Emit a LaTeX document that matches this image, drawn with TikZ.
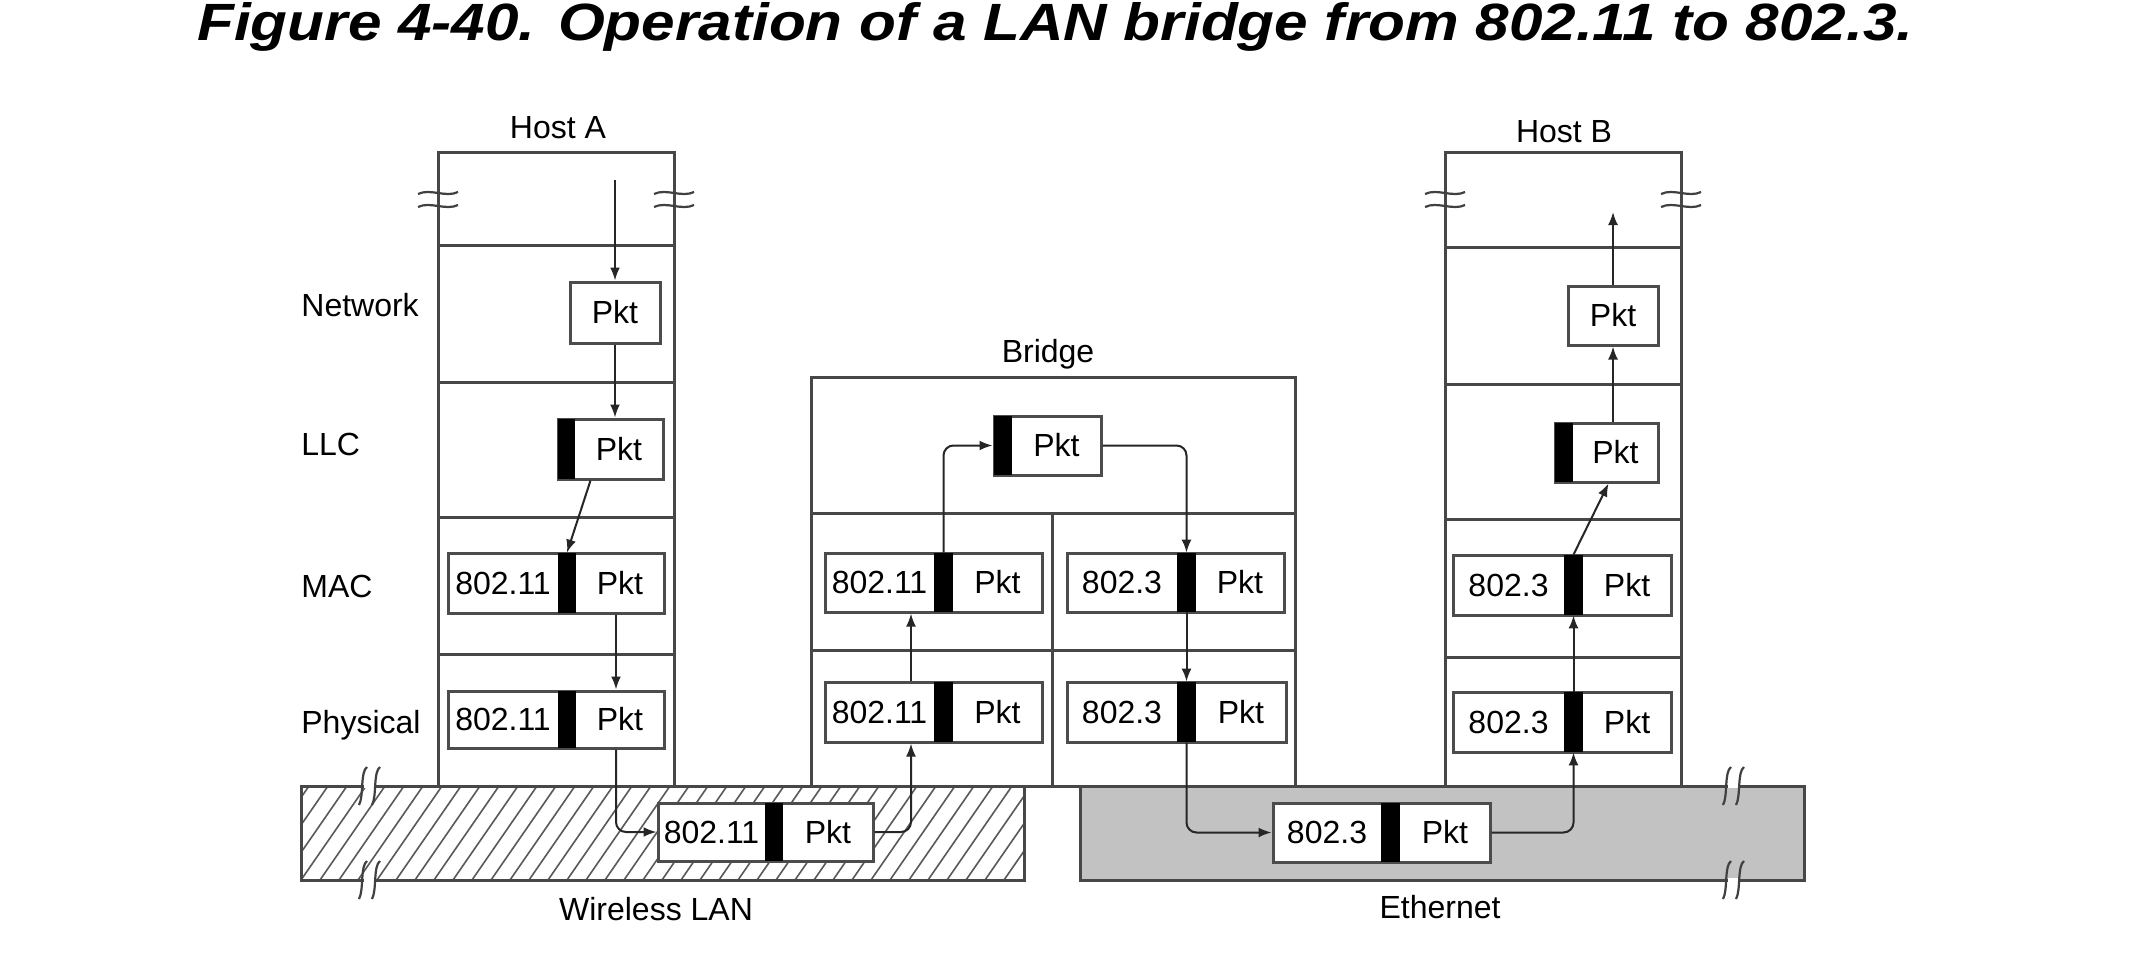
\documentclass[tikz,border=0pt]{standalone}
\usepackage{graphicx}
\usepackage{fontspec}
\setmainfont{Liberation Sans}
\usetikzlibrary{arrows.meta,fit,calc}
\newcommand\pktbox[8]{%
  \node[pktframe, fit={(#2,#4) (#3,#5)}] (#1) {};
  \node[barbox, fit={(#6,#4) (#7,#5)}] (#1bar) {};
  \node[lbl] (#1h) at ({(#2+#6)/2},{(#4+#5)/2}) {#8};
  \node[lbl] (#1p) at ({(#7+#3)/2},{(#4+#5)/2}) {Pkt};
}
\newcommand\netbox[5]{%
  \node[pktframe, fit={(#2,#4) (#3,#5)}] (#1) {};
  \node[lbl] (#1p) at ({(#2+#3)/2},{(#4+#5)/2}) {Pkt};
}
\newcommand\hostbreak[2]{%
  \draw[brk] ({#1-20},{#2+1}) .. controls ({#1-8},{#2-5}) and ({#1+8},{#2+5}) .. ({#1+20},{#2-1});
}
\newcommand\bandbreak[2]{%
  \draw[white, line width=2pt] ({#1+1},#2) -- ({#1+12},#2);
  \draw[brk] ({#1+4},{#2-19}) .. controls ({#1-3},{#2-14}) and ({#1+1},{#2+10}) .. ({#1-4},{#2+19});
  \draw[brk] ({#1+17},{#2-19}) .. controls ({#1+10},{#2-14}) and ({#1+14},{#2+10}) .. ({#1+9},{#2+19});
}
\begin{document}
\begin{tikzpicture}[x=0.5pt,y=-0.5pt,
  frame/.style={draw=black!72, line width=1.5pt},
  pktframe/.style={draw=black!70, line width=1.5pt, fill=white, inner sep=0pt},
  barbox/.style={fill=black, inner sep=0pt},
  lbl/.style={font=\fontsize{16}{19}\selectfont, inner sep=0pt},
  conn/.style={draw=black!85, line width=1pt},
  arr/.style={conn, -{Latex[length=6.5pt,width=5pt]}},
  rc/.style={rounded corners=5pt},
  brk/.style={draw=black!75, line width=1.1pt},
  hatchline/.style={draw=black!65, line width=0.8pt},
]
\useasboundingbox (0,0) rectangle (2135,958);
\fill[white] (0,0) rectangle (2135,958);

% title
\node[anchor=base west, inner sep=0pt] (title) at (197,40)
  {\resizebox{858pt}{19pt}{\fontsize{20}{24}\selectfont\bfseries\itshape Figure 4-40. Operation of a LAN bridge from 802.11 to 802.3.}};

% networks
\node[frame, fill=black!24, inner sep=0pt, fit={(1080,786) (1804,880)}] (eth) {};
\node[frame, inner sep=0pt, fit={(301,786) (1024,880)}] (wlan) {};
\begin{scope}
  \clip (301,786) rectangle (1024,880);
  \foreach \i in {-5,...,40} \draw[hatchline] ({301+\i*19},880) -- ++(65,-94);
\end{scope}
\draw[frame] (301,786) rectangle (1024,880);
\node[lbl, anchor=base] (wlanlbl) at (656,920) {Wireless LAN};
\node[lbl, anchor=base] (ethlbl) at (1440,918) {Ethernet};

% host A
\node[frame, inner sep=0pt, fit={(438,152) (674,786)}] (hostA) {};
\foreach \y in {245,382,517,654} \draw[frame] (438,\y) -- (674,\y);
\node[lbl, anchor=base] (hostAlbl) at (558,138) {Host A};
\hostbreak{438}{193}\hostbreak{438}{206}
\hostbreak{674}{193}\hostbreak{674}{206}

% host B
\node[frame, inner sep=0pt, fit={(1445,152) (1681,786)}] (hostB) {};
\foreach \y in {247,384,519,657} \draw[frame] (1445,\y) -- (1681,\y);
\node[lbl, anchor=base] (hostBlbl) at (1564,142) {Host B};
\hostbreak{1445}{193}\hostbreak{1445}{206}
\hostbreak{1681}{193}\hostbreak{1681}{206}

% bridge
\node[frame, inner sep=0pt, fit={(811,377) (1295,786)}] (bridge) {};
\draw[frame] (811,513) -- (1295,513);
\draw[frame] (811,650) -- (1295,650);
\draw[frame] (1052,513) -- (1052,786);
\node[lbl, anchor=base] (bridgelbl) at (1048,362) {Bridge};

% layer labels
\node[lbl, anchor=base west] (lNet) at (301,316) {Network};
\node[lbl, anchor=base west] (lLLC) at (301,455) {LLC};
\node[lbl, anchor=base west] (lMAC) at (301,597) {MAC};
\node[lbl, anchor=base west] (lPhy) at (301,733) {Physical};

% break marks on networks
\bandbreak{363}{786}\bandbreak{363}{880}
\bandbreak{1727}{786}\bandbreak{1727}{880}

% packets
\netbox{aNet}{570}{660}{282}{343}
\pktbox{aLLC}{558}{663}{419}{479}{558}{575}{}
\pktbox{aMAC}{448}{664}{553}{613}{558}{576}{802.11}
\pktbox{aPhy}{448}{664}{691}{748}{558}{576}{802.11}
\pktbox{wPkt}{658}{873}{803}{861}{765}{783}{802.11}
\pktbox{brLLC}{994}{1101}{416}{475}{994}{1012}{}
\pktbox{brMACL}{825}{1042}{553}{612}{934}{953}{802.11}
\pktbox{brPhyL}{825}{1042}{682}{742}{934}{953}{802.11}
\pktbox{brMACR}{1067}{1284}{553}{612}{1177}{1196}{802.3}
\pktbox{brPhyR}{1067}{1286}{682}{742}{1177}{1196}{802.3}
\pktbox{ePkt}{1273}{1490}{803}{862}{1381}{1400}{802.3}
\pktbox{bPhy}{1453}{1671}{692}{752}{1564}{1583}{802.3}
\pktbox{bMAC}{1453}{1671}{555}{615}{1564}{1583}{802.3}
\pktbox{bLLC}{1555}{1658}{423}{482}{1555}{1573}{}
\netbox{bNet}{1568}{1658}{286}{345}

% connectors
\coordinate (aTop) at (615,180);
\draw[arr] (aTop) -- (aTop |- aNet.north);
\draw[arr] (aNet.south) -- (aNet.south |- aLLC.north);
\draw[arr] ([xshift=-10pt]aLLC.south) -- (aMACbar.north);
\draw[arr] ([xshift=30pt]aMAC.south) -- ([xshift=30pt]aPhy.north);
\draw[arr, rc] ([xshift=30pt]aPhy.south) |- (wPkt.west);
\draw[arr, rc] (wPkt.east) -| ([xshift=-11.25pt]brPhyL.south);
\draw[arr] ([xshift=-11.25pt]brPhyL.north) -- ([xshift=-11.25pt]brMACL.south);
\draw[arr, rc] (brMACLbar.north) |- (brLLC.west);
\draw[arr, rc] (brLLC.east) -| (brMACRbar.north);
\draw[arr] (brMACRbar.south) -- (brPhyRbar.north);
\draw[arr, rc] (brPhyRbar.south) |- (ePkt.west);
\draw[arr, rc] (ePkt.east) -| (bPhybar.south);
\draw[arr] (bPhybar.north) -- (bMACbar.south);
\draw[arr] (bMACbar.north) -- ([xshift=1pt]bLLC.south);
\draw[arr] (bNet.south |- bLLC.north) -- (bNet.south);
\coordinate (bTop) at (1613,212);
\draw[arr] (bNet.north) -- (bTop);
\end{tikzpicture}
\end{document}
